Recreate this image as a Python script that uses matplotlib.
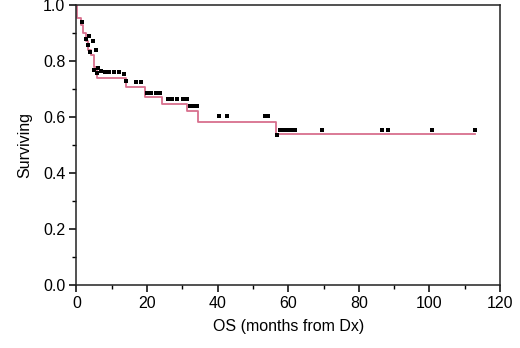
import matplotlib
matplotlib.use("Agg")
import matplotlib.pyplot as plt
from matplotlib.ticker import MultipleLocator

plt.rcParams['font.family'] = ['Liberation Sans', 'DejaVu Sans']

# Kaplan-Meier step curve
step_t = [0, 0.3, 1.2, 2.0, 2.6, 3.3, 4.0, 5.0, 5.8, 14.0, 19.5, 24.3, 31.3, 34.5, 56.5, 112.8]
step_s = [1.0, 0.955, 0.93, 0.90, 0.87, 0.84, 0.82, 0.78, 0.74, 0.706, 0.672, 0.648, 0.62, 0.582, 0.538, 0.538]

# censored observations
cens_t = [1.5, 2.6, 3.5, 3.2, 4.6, 3.9, 5.6, 5.1, 6.2, 5.9, 7.0, 8.2, 9.3, 10.6, 12.2, 13.4, 13.9,
          17.0, 18.2, 20.0, 21.0, 22.5, 23.6, 26.0, 27.0, 28.5, 30.2, 31.3, 32.2, 33.2, 34.2,
          40.4, 42.6, 53.3, 54.3, 56.9, 57.7, 58.5, 59.4, 60.2, 61.1, 62.0, 69.7, 86.7, 88.4,
          100.6, 112.8]
cens_s = [0.94, 0.878, 0.89, 0.858, 0.87, 0.834, 0.84, 0.769, 0.775, 0.757, 0.763, 0.76, 0.76, 0.76, 0.76, 0.754, 0.727,
          0.724, 0.724, 0.686, 0.686, 0.686, 0.686, 0.664, 0.664, 0.664, 0.664, 0.664, 0.638, 0.638, 0.638,
          0.603, 0.603, 0.603, 0.603, 0.537, 0.553, 0.553, 0.553, 0.553, 0.553, 0.553, 0.553, 0.553, 0.553,
          0.553, 0.553]

fig = plt.figure(figsize=(5.2, 3.48), dpi=100)
ax = fig.add_axes([0.147, 0.181, 0.8145, 0.8045])

ax.step(step_t, step_s, where='post', color='#d8708e', lw=1.3)
ax.plot(cens_t, cens_s, 's', color='black', ms=2.6, mew=0)

ax.set_xlim(0, 120)
ax.set_ylim(0, 1.0)
ax.set_xticks(range(0, 121, 20))
ax.set_yticks([0.0, 0.2, 0.4, 0.6, 0.8, 1.0])
ax.set_yticklabels(['0.0', '0.2', '0.4', '0.6', '0.8', '1.0'])
ax.xaxis.set_minor_locator(MultipleLocator(10))
ax.yaxis.set_minor_locator(MultipleLocator(0.1))
ax.tick_params(which='major', direction='out', length=5, width=1.1, labelsize=11.5, pad=3)
ax.tick_params(which='minor', direction='out', length=3, width=1.0)
for sp in ax.spines.values():
    sp.set_linewidth(1.1)
    sp.set_color('#222222')

ax.set_xlabel('OS (months from Dx)', fontsize=11.5, labelpad=6)
ax.set_ylabel('Surviving', fontsize=11.5, labelpad=8)

fig.savefig('out.png', dpi=100)
